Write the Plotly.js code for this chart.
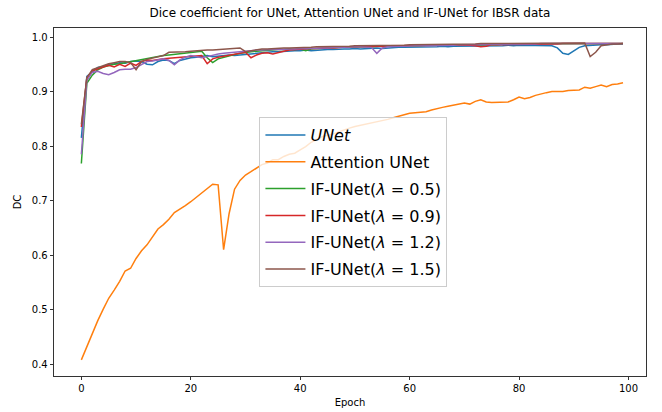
<!DOCTYPE html>
<html>
<head>
<meta charset="utf-8">
<script src="https://cdn.plot.ly/plotly-3.0.1.min.js"></script>
<style>
  html, body { margin: 0; padding: 0; background: #ffffff; }
  #chart { width: 662px; height: 412px; }
</style>
</head>
<body>
<div id="chart"></div>
<script>
// ---- data ----
const seriesNames = [
  "<i>UNet</i>",
  "Attention UNet",
  "IF-UNet(<i>λ</i> = 0.5)",
  "IF-UNet(<i>λ</i> = 0.9)",
  "IF-UNet(<i>λ</i> = 1.2)",
  "IF-UNet(<i>λ</i> = 1.5)"
];

const unet = [
  0.815, 0.928, 0.936, 0.944, 0.946, 0.950, 0.951, 0.953, 0.952, 0.955,
  0.956, 0.955, 0.950, 0.949, 0.955, 0.958, 0.957, 0.951, 0.957, 0.960,
  0.962, 0.963, 0.965, 0.966, 0.964, 0.965, 0.966, 0.967, 0.966, 0.967,
  0.969, 0.970, 0.970, 0.971, 0.972, 0.973, 0.973, 0.974, 0.974, 0.975,
  0.975, 0.976, 0.975, 0.976, 0.977, 0.977, 0.977, 0.978, 0.978, 0.978,
  0.979, 0.978, 0.979, 0.979, 0.980, 0.979, 0.980, 0.980, 0.981, 0.981,
  0.981, 0.982, 0.981, 0.982, 0.982, 0.982, 0.983, 0.982, 0.983, 0.983,
  0.983, 0.983, 0.983, 0.984, 0.984, 0.984, 0.984, 0.984, 0.985, 0.984,
  0.985, 0.985, 0.985, 0.985, 0.985, 0.985, 0.984, 0.980, 0.970, 0.968,
  0.975, 0.981, 0.984, 0.985, 0.986, 0.986, 0.986, 0.987, 0.987, 0.987
];

const attentionUnet = [
  0.408, 0.432, 0.458, 0.480, 0.501, 0.521, 0.536, 0.552, 0.571, 0.576,
  0.594, 0.608, 0.619, 0.634, 0.648, 0.656, 0.666, 0.678, 0.684, 0.691,
  0.698, 0.706, 0.714, 0.722, 0.730, 0.729, 0.610, 0.676, 0.721, 0.737,
  0.747, 0.753, 0.760, 0.766, 0.769, 0.775, 0.775, 0.781, 0.785, 0.787,
  0.793, 0.799, 0.807, 0.812, 0.817, 0.820, 0.822, 0.826, 0.830, 0.833,
  0.836, 0.838, 0.840, 0.842, 0.845, 0.847, 0.849, 0.852, 0.855, 0.858,
  0.860, 0.861, 0.862, 0.863, 0.866, 0.869, 0.871, 0.873, 0.875, 0.878,
  0.879, 0.877, 0.882, 0.885, 0.881, 0.880, 0.880, 0.880, 0.881, 0.885,
  0.890, 0.887, 0.889, 0.893, 0.896, 0.898, 0.900, 0.900, 0.900, 0.902,
  0.903, 0.903, 0.908, 0.906, 0.909, 0.912, 0.909, 0.913, 0.914, 0.916
];

const ifUnet05 = [
  0.768, 0.915, 0.930, 0.940, 0.945, 0.948, 0.950, 0.951, 0.953, 0.955,
  0.957, 0.959, 0.961, 0.962, 0.964, 0.966, 0.967, 0.968, 0.969, 0.970,
  0.971, 0.972, 0.974, 0.962, 0.953, 0.960, 0.963, 0.966, 0.968, 0.970,
  0.972, 0.973, 0.974, 0.975, 0.975, 0.976, 0.977, 0.977, 0.978, 0.977,
  0.978, 0.975, 0.978, 0.979, 0.979, 0.980, 0.980, 0.981, 0.981, 0.981,
  0.982, 0.982, 0.982, 0.982, 0.983, 0.983, 0.983, 0.983, 0.984, 0.984,
  0.984, 0.984, 0.984, 0.985, 0.985, 0.985, 0.985, 0.985, 0.985, 0.986,
  0.986, 0.986, 0.986, 0.986, 0.986, 0.986, 0.986, 0.987, 0.987, 0.987,
  0.987, 0.987, 0.987, 0.987, 0.987, 0.987, 0.987, 0.988, 0.988, 0.988,
  0.988, 0.988, 0.988, 0.988, 0.988, 0.988, 0.988, 0.988, 0.988, 0.988
];

const ifUnet09 = [
  0.835, 0.925, 0.938, 0.942, 0.945, 0.948, 0.945, 0.950, 0.946, 0.952,
  0.948, 0.955, 0.958, 0.957, 0.959, 0.960, 0.961, 0.962, 0.963, 0.963,
  0.964, 0.965, 0.966, 0.951, 0.960, 0.963, 0.965, 0.967, 0.969, 0.971,
  0.972, 0.962, 0.967, 0.970, 0.971, 0.969, 0.972, 0.974, 0.976, 0.977,
  0.978, 0.978, 0.979, 0.979, 0.980, 0.980, 0.980, 0.981, 0.981, 0.982,
  0.982, 0.982, 0.983, 0.983, 0.983, 0.983, 0.984, 0.984, 0.984, 0.984,
  0.984, 0.985, 0.985, 0.985, 0.985, 0.985, 0.985, 0.986, 0.986, 0.986,
  0.986, 0.985, 0.984, 0.982, 0.983, 0.986, 0.986, 0.986, 0.987, 0.987,
  0.987, 0.987, 0.987, 0.987, 0.987, 0.987, 0.987, 0.987, 0.988, 0.988,
  0.988, 0.988, 0.988, 0.988, 0.988, 0.988, 0.988, 0.988, 0.988, 0.988
];

const ifUnet12 = [
  0.785, 0.920, 0.935, 0.937, 0.933, 0.931, 0.935, 0.940, 0.941, 0.941,
  0.944, 0.950, 0.955, 0.956, 0.958, 0.960, 0.957, 0.949, 0.958, 0.963,
  0.966, 0.964, 0.962, 0.964, 0.967, 0.969, 0.970, 0.971, 0.973, 0.974,
  0.975, 0.975, 0.976, 0.976, 0.977, 0.977, 0.977, 0.978, 0.978, 0.978,
  0.979, 0.979, 0.979, 0.980, 0.980, 0.980, 0.981, 0.981, 0.981, 0.982,
  0.982, 0.982, 0.982, 0.981, 0.970, 0.980, 0.982, 0.983, 0.983, 0.983,
  0.984, 0.984, 0.984, 0.984, 0.985, 0.985, 0.985, 0.985, 0.985, 0.986,
  0.986, 0.986, 0.986, 0.986, 0.986, 0.986, 0.987, 0.987, 0.987, 0.987,
  0.987, 0.987, 0.987, 0.987, 0.988, 0.988, 0.988, 0.988, 0.988, 0.988,
  0.988, 0.988, 0.988, 0.988, 0.988, 0.988, 0.988, 0.988, 0.988, 0.988
];

const ifUnet15 = [
  0.840, 0.925, 0.940, 0.944, 0.948, 0.951, 0.953, 0.955, 0.955, 0.953,
  0.940, 0.955, 0.959, 0.961, 0.963, 0.966, 0.972, 0.972, 0.973, 0.973,
  0.974, 0.975, 0.975, 0.976, 0.976, 0.977, 0.977, 0.978, 0.979, 0.980,
  0.973, 0.975, 0.977, 0.978, 0.978, 0.979, 0.979, 0.980, 0.980, 0.980,
  0.981, 0.981, 0.981, 0.982, 0.982, 0.982, 0.983, 0.983, 0.983, 0.983,
  0.984, 0.984, 0.984, 0.984, 0.984, 0.985, 0.985, 0.985, 0.985, 0.985,
  0.986, 0.986, 0.986, 0.986, 0.986, 0.986, 0.987, 0.987, 0.987, 0.987,
  0.987, 0.987, 0.987, 0.988, 0.988, 0.988, 0.988, 0.988, 0.988, 0.988,
  0.988, 0.988, 0.988, 0.989, 0.989, 0.989, 0.989, 0.989, 0.989, 0.989,
  0.989, 0.989, 0.989, 0.964, 0.972, 0.984, 0.986, 0.987, 0.987, 0.988
];

const xTickVals = [0, 20, 40, 60, 80, 100];
const yTickVals = [0.4, 0.5, 0.6, 0.7, 0.8, 0.9, 1.0];

const allSeries = [unet, attentionUnet, ifUnet05, ifUnet09, ifUnet12, ifUnet15];
const colors = ["#1f77b4", "#ff7f0e", "#2ca02c", "#d62728", "#9467bd", "#8c564b"];

const epochs = unet.map((_, i) => i);

const traces = allSeries.map((vals, k) => ({
  type: "scatter",
  mode: "lines",
  x: epochs,
  y: vals,
  name: seriesNames[k],
  legendgroup: "g" + k,
  line: { color: colors[k], width: 1.5 },
  hoverinfo: "skip"
}));

const font = "DejaVu Sans, Verdana, sans-serif";

const layout = {
  width: 662,
  height: 412,
  margin: { l: 54, r: 16, t: 28, b: 36 },
  paper_bgcolor: "#ffffff",
  plot_bgcolor: "#ffffff",
  font: { family: font, size: 10, color: "#000000" },
  title: {
    text: "Dice coefficient for UNet, Attention UNet and IF-UNet for IBSR data",
    font: { family: font, size: 12, color: "#000000" },
    x: 0.5286, xanchor: "center",
    y: 0.969, yanchor: "middle", yref: "container"
  },
  xaxis: {
    range: [-5.0, 103.2],
    tickvals: xTickVals,
    ticktext: xTickVals.map(String),
    ticks: "outside", ticklen: 3.5, tickwidth: 0.8, tickcolor: "#000",
    showline: true, linecolor: "#000", linewidth: 0.8, mirror: true,
    showgrid: false, zeroline: false,
    tickfont: { family: font, size: 10, color: "#000" },
    title: { text: "Epoch", font: { family: font, size: 10, color: "#000" }, standoff: 5 },
    automargin: false
  },
  yaxis: {
    range: [0.3785, 1.0165],
    tickvals: yTickVals,
    ticktext: yTickVals.map(v => v.toFixed(1)),
    ticks: "outside", ticklen: 3.5, tickwidth: 0.8, tickcolor: "#000",
    showline: true, linecolor: "#000", linewidth: 0.8, mirror: true,
    showgrid: false, zeroline: false,
    tickfont: { family: font, size: 10, color: "#000" },
    title: { text: "DC", font: { family: font, size: 10, color: "#000" }, standoff: 8 },
    automargin: false
  },
  showlegend: true,
  legend: {
    x: 0.347, xanchor: "left",
    y: 0.744, yanchor: "top",
    bgcolor: "rgba(255,255,255,0.8)",
    bordercolor: "#cccccc", borderwidth: 1,
    font: { family: font, size: 16, color: "#000" },
    tracegroupgap: 3,
    itemwidth: 40,
    traceorder: "grouped"
  }
};

Plotly.newPlot("chart", traces, layout, { staticPlot: true, displayModeBar: false });
</script>
</body>
</html>
